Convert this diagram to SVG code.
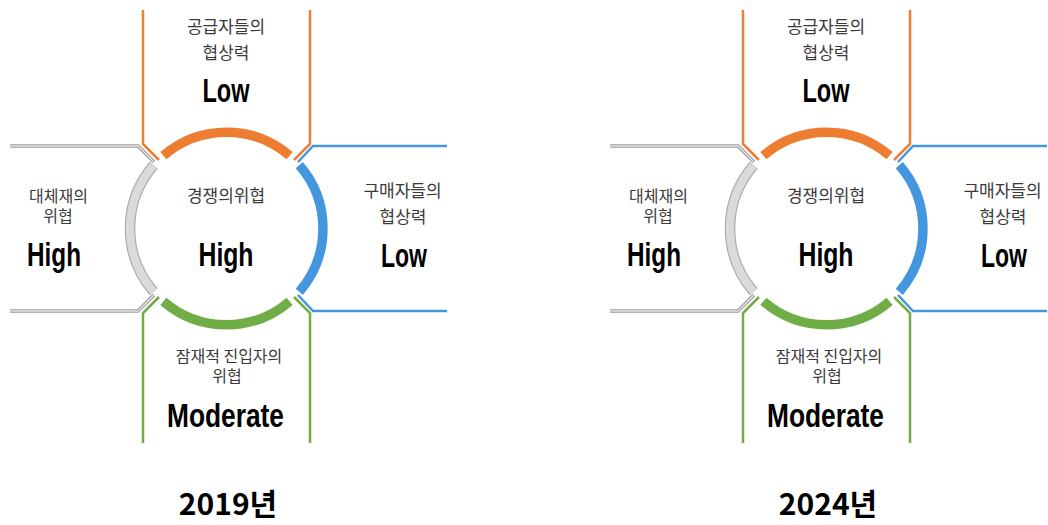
<svg xmlns="http://www.w3.org/2000/svg" width="1048" height="525" viewBox="0 0 1048 525">
<style>
.ln{fill:none;stroke-width:2.5;stroke-linejoin:miter}
.or{stroke:#ED7D31}
.bl{stroke:#4496DE}
.gr{stroke:#70AD47}
.arc{fill:none;stroke-width:9.5}
.gyo{fill:none;stroke:#9C9C9C;stroke-width:3.6}
.gyi{fill:none;stroke:#E2E2E2;stroke-width:1.4}
.gao{fill:none;stroke:#A8A8A8;stroke-width:10.5}
.gai{fill:none;stroke:#DADADA;stroke-width:8.3}
.kr{font-family:"Noto Sans CJK KR","Noto Sans",sans-serif;font-size:17px;fill:#3A3A3A;text-anchor:middle}
.kr2{font-family:"Noto Sans CJK KR","Noto Sans",sans-serif;font-size:16px;fill:#3A3A3A;text-anchor:middle}
.big{font-family:"Liberation Sans","DejaVu Sans",sans-serif;font-weight:bold;font-size:33.5px;fill:#000;text-anchor:middle}
.yr{font-family:"Noto Sans CJK KR","Noto Sans",sans-serif;font-weight:bold;font-size:30px;fill:#000;text-anchor:middle}
</style>
<rect width="1048" height="525" fill="#fff"/>

<g id="diagram-2019">
  <g id="n2019-supplier">
    <polyline class="ln or" points="143,10 143,144 159,160"/>
    <polyline class="ln or" points="310,10 310,144 294,160"/>
    <path class="arc or" d="M163.4,155.7 A96.5,96.5 0 0 1 289.6,155.7"/>
    <text class="kr" x="226" y="33">공급자들의</text>
    <text class="kr" x="226" y="59">협상력</text>
    <text class="big" x="226" y="102" textLength="47" lengthAdjust="spacingAndGlyphs">Low</text>
  </g>
  <g id="n2019-buyer">
    <polyline class="ln bl" points="447,146 313,146 298,162"/>
    <polyline class="ln bl" points="447,311 313,311 298,295"/>
    <path class="arc bl" d="M299.3,165.2 A96.5,96.5 0 0 1 299.3,291.8"/>
    <text class="kr" x="402.5" y="196.5">구매자들의</text>
    <text class="kr" x="403" y="222.5">협상력</text>
    <text class="big" x="404" y="267" textLength="46" lengthAdjust="spacingAndGlyphs">Low</text>
  </g>
  <g id="n2019-entrant">
    <polyline class="ln gr" points="143,443 143,313 159,297"/>
    <polyline class="ln gr" points="310,443 310,313 294,297"/>
    <path class="arc gr" d="M289.6,301.3 A96.5,96.5 0 0 1 163.4,301.3"/>
    <text class="kr2" x="229" y="362">잠재적 진입자의</text>
    <text class="kr2" x="227" y="381.5">위협</text>
    <text class="big" x="225.5" y="427" textLength="117" lengthAdjust="spacingAndGlyphs">Moderate</text>
  </g>
  <g id="n2019-substitute">
    <polyline class="gyo" points="10,146 138,146 154,162"/>
    <polyline class="gyi" points="10,146 138,146 154,162"/>
    <polyline class="gyo" points="10,311 138,311 154,295"/>
    <polyline class="gyi" points="10,311 138,311 154,295"/>
    <path class="gao" d="M153.7,291.8 A96.5,96.5 0 0 1 153.7,165.2"/>
    <path class="gai" d="M153.7,291.8 A96.5,96.5 0 0 1 153.7,165.2"/>
    <text class="kr2" x="58.5" y="202">대체재의</text>
    <text class="kr2" x="58" y="221.5">위협</text>
    <text class="big" x="54" y="266" textLength="54" lengthAdjust="spacingAndGlyphs">High</text>
  </g>
  <g id="n2019-rivalry">
    <text class="kr" x="226" y="201.5">경쟁의위협</text>
    <text class="big" x="226" y="266" textLength="55" lengthAdjust="spacingAndGlyphs">High</text>
  </g>
  <text class="yr" x="228" y="515">2019년</text>
</g>

<g id="diagram-2024" transform="translate(600,0)">
  <g id="n2024-supplier">
    <polyline class="ln or" points="143,10 143,144 159,160"/>
    <polyline class="ln or" points="310,10 310,144 294,160"/>
    <path class="arc or" d="M163.4,155.7 A96.5,96.5 0 0 1 289.6,155.7"/>
    <text class="kr" x="226" y="33">공급자들의</text>
    <text class="kr" x="226" y="59">협상력</text>
    <text class="big" x="226" y="102" textLength="47" lengthAdjust="spacingAndGlyphs">Low</text>
  </g>
  <g id="n2024-buyer">
    <polyline class="ln bl" points="447,146 313,146 298,162"/>
    <polyline class="ln bl" points="447,311 313,311 298,295"/>
    <path class="arc bl" d="M299.3,165.2 A96.5,96.5 0 0 1 299.3,291.8"/>
    <text class="kr" x="402.5" y="196.5">구매자들의</text>
    <text class="kr" x="403" y="222.5">협상력</text>
    <text class="big" x="404" y="267" textLength="46" lengthAdjust="spacingAndGlyphs">Low</text>
  </g>
  <g id="n2024-entrant">
    <polyline class="ln gr" points="143,443 143,313 159,297"/>
    <polyline class="ln gr" points="310,443 310,313 294,297"/>
    <path class="arc gr" d="M289.6,301.3 A96.5,96.5 0 0 1 163.4,301.3"/>
    <text class="kr2" x="229" y="362">잠재적 진입자의</text>
    <text class="kr2" x="227" y="381.5">위협</text>
    <text class="big" x="225.5" y="427" textLength="117" lengthAdjust="spacingAndGlyphs">Moderate</text>
  </g>
  <g id="n2024-substitute">
    <polyline class="gyo" points="10,146 138,146 154,162"/>
    <polyline class="gyi" points="10,146 138,146 154,162"/>
    <polyline class="gyo" points="10,311 138,311 154,295"/>
    <polyline class="gyi" points="10,311 138,311 154,295"/>
    <path class="gao" d="M153.7,291.8 A96.5,96.5 0 0 1 153.7,165.2"/>
    <path class="gai" d="M153.7,291.8 A96.5,96.5 0 0 1 153.7,165.2"/>
    <text class="kr2" x="58.5" y="202">대체재의</text>
    <text class="kr2" x="58" y="221.5">위협</text>
    <text class="big" x="54" y="266" textLength="54" lengthAdjust="spacingAndGlyphs">High</text>
  </g>
  <g id="n2024-rivalry">
    <text class="kr" x="226" y="201.5">경쟁의위협</text>
    <text class="big" x="226" y="266" textLength="55" lengthAdjust="spacingAndGlyphs">High</text>
  </g>
  <text class="yr" x="228" y="515">2024년</text>
</g>
<g id="connectors"/>
</svg>
